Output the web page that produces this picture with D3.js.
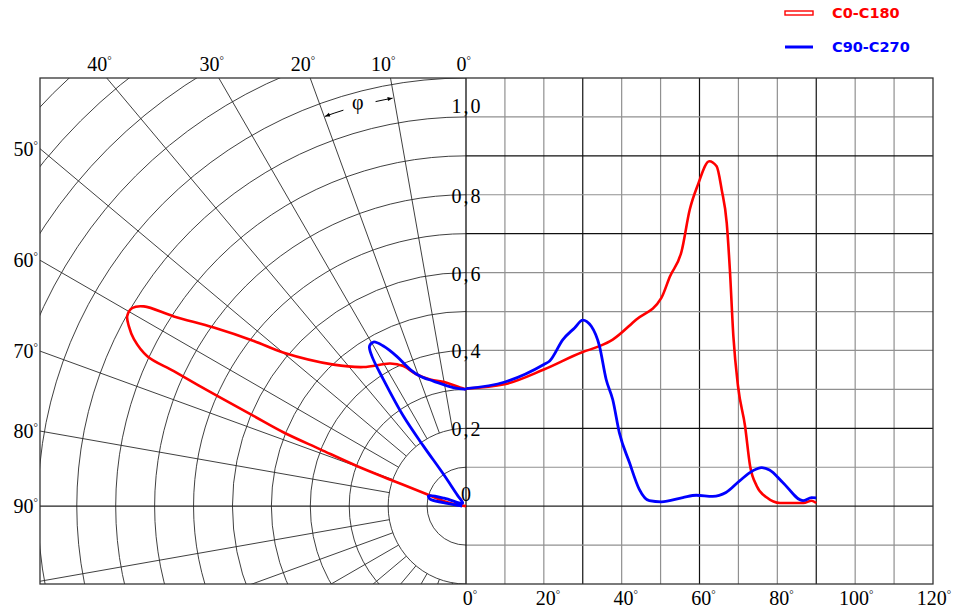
<!DOCTYPE html>
<html>
<head>
<meta charset="utf-8">
<script src="https://cdn.jsdelivr.net/npm/d3@7"></script>
<style>
body { margin: 0; background: #fff; }
text { font-family: "Liberation Serif", "Times New Roman", serif; }
</style>
</head>
<body>
<svg id="chart" width="953" height="611"></svg>
<script>
const svg = d3.select('#chart')

// polar grid
const ringValues = [0.1, 0.2, 0.3, 0.4, 0.5, 0.6, 0.7, 0.8, 0.9, 1.0, 1.1, 1.2, 1.3, 1.4, 1.5]
const spokeAngles = [10, 20, 30, 40, 50, 60, 70, 80, 100, 110, 120, 130, 140, 150, 160, 170]
const topAngleLabels = [0, 10, 20, 30, 40]
const sideAngleLabels = [50, 60, 70, 80, 90]

// cartesian grid
const xGrid = [10, 20, 30, 40, 50, 60, 70, 80, 90, 100, 110]
const xDark = [30, 60, 90]
const yGrid = [-0.1, 0.1, 0.2, 0.3, 0.4, 0.5, 0.6, 0.7, 0.8, 0.9, 1.0]
const yDark = [0.2, 0.7, 0.9]
const xTickValues = [0, 20, 40, 60, 80, 100, 120]
const yTickValues = [0, 0.2, 0.4, 0.6, 0.8, 1.0]
const yTickLabels = ['0', '0,2', '0,4', '0,6', '0,8', '1,0']

// polar curves (angle from vertical, relative intensity)
const redPolarAngle = [0, 2.9, 8.9, 15.8, 20.5, 24.1, 28.0, 36.4, 43.1, 49.9, 52.1, 54.7, 57.0, 58.2, 59.3, 60.7, 61.9, 63.3, 64.8, 65.2, 66.1, 67.0, 68.0, 68.7, 69.8, 70.8, 73.0, 76.9, 82, 90]
const redPolarValue = [0.30, 0.305, 0.321, 0.338, 0.361, 0.394, 0.415, 0.444, 0.498, 0.612, 0.691, 0.794, 0.895, 0.974, 0.997, 0.998, 0.982, 0.955, 0.905, 0.827, 0.699, 0.593, 0.505, 0.402, 0.299, 0.197, 0.105, 0.06, 0.02, 0.0]
const bluePolarAngle = [0, 6.1, 14.6, 19.4, 22.2, 24.8, 27.3, 29.4, 31.1, 32.1, 33.1, 34.8, 35.3, 35.2, 38, 45, 55, 65, 70, 74.7, 79, 81, 85, 90]
const bluePolarValue = [0.30, 0.306, 0.332, 0.354, 0.379, 0.424, 0.463, 0.484, 0.480, 0.455, 0.389, 0.282, 0.189, 0.104, 0.036, 0.012, 0.012, 0.02, 0.06, 0.10, 0.094, 0.059, 0.02, 0.01]

// cartesian curves
const redAngle = [0, 9.9, 20, 30, 34.3, 37.7, 43.7, 50.2, 52.4, 55.4, 57.5, 59.6, 62.5, 64.4, 65.7, 67.0, 67.8, 68.7, 69.9, 71.7, 73.0, 74.7, 77.3, 80.7, 86.7, 88.8, 90]
const redValue = [0.302, 0.313, 0.351, 0.396, 0.411, 0.428, 0.479, 0.535, 0.590, 0.655, 0.762, 0.826, 0.886, 0.873, 0.813, 0.727, 0.608, 0.437, 0.308, 0.206, 0.103, 0.052, 0.022, 0.008, 0.008, 0.014, 0.008]
const blueAngle = [0, 10, 20, 21.5, 24.9, 27.9, 30, 32.2, 34.3, 36.0, 37.7, 39.4, 42, 44.5, 47.1, 50.2, 55.7, 59.2, 63.4, 66.8, 70.3, 73.7, 75.9, 78, 81.4, 86.6, 88.8, 90]
const blueValue = [0.302, 0.319, 0.364, 0.373, 0.428, 0.458, 0.478, 0.462, 0.411, 0.326, 0.274, 0.189, 0.112, 0.044, 0.014, 0.011, 0.022, 0.028, 0.025, 0.035, 0.065, 0.091, 0.099, 0.093, 0.061, 0.014, 0.022, 0.021]

const redColor = '#ff0000'
const blueColor = '#0000ff'

const xScale = d3.scaleLinear().domain([0, 120]).range([466, 933])
const yScale = d3.scaleLinear().domain([-0.2, 1.1]).range([584, 78])
const cx = xScale(0)
const cy = yScale(0)
const rScale = d3.scaleLinear().domain([0, 1.1]).range([0, cy - yScale(1.1)])
const plotLeft = 40
const plotTop = yScale(1.1)
const plotBottom = yScale(-0.2)
const rad = a => a * Math.PI / 180
const px = (a, v) => cx - rScale(v) * Math.sin(rad(a))
const py = (a, v) => cy - rScale(v) * Math.cos(rad(a))

const defs = svg.append('defs')
defs.append('clipPath').attr('id', 'polarClip')
  .append('rect')
  .attr('x', plotLeft).attr('y', plotTop)
  .attr('width', cx - plotLeft).attr('height', plotBottom - plotTop)

defs.append('marker')
  .attr('id', 'arrow')
  .attr('viewBox', '0 -5 10 10')
  .attr('refX', 10).attr('refY', 0)
  .attr('markerWidth', 7).attr('markerHeight', 5)
  .attr('markerUnits', 'userSpaceOnUse')
  .attr('orient', 'auto')
  .append('path').attr('d', 'M0,-4L10,0L0,4Z').style('fill', '#000')

// degree label: digits plus a small raised ring
const degreeLabel = (sel, d) => {
  sel.text(d)
  sel.append('tspan').attr('dy', -7).style('font-size', '11px').text('°')
}

// ---- polar grid
const polar = svg.append('g').attr('clip-path', 'url(#polarClip)')
polar.selectAll('circle.ring')
  .data(ringValues)
  .enter().append('circle')
  .attr('class', 'ring')
  .attr('cx', cx).attr('cy', cy)
  .attr('r', d => rScale(d))
  .attr('fill', 'none').attr('stroke', '#2a2a2a').attr('stroke-width', 0.9)

polar.selectAll('line.spoke')
  .data(spokeAngles)
  .enter().append('line')
  .attr('class', 'spoke')
  .attr('x1', d => px(d, 0.2)).attr('y1', d => py(d, 0.2))
  .attr('x2', d => px(d, 2)).attr('y2', d => py(d, 2))
  .attr('stroke', '#2a2a2a').attr('stroke-width', 0.9)

// phi dimension arrow
const phiR = rScale(1.065)
const arcPath = (a1, a2) => `M${px(a1, 1.065)},${py(a1, 1.065)} A${phiR},${phiR} 0 0 ${a2 > a1 ? 0 : 1} ${px(a2, 1.065)},${py(a2, 1.065)}`
svg.append('path').attr('d', arcPath(17.2, 19.9))
  .attr('fill', 'none').attr('stroke', '#000').attr('stroke-width', 1).attr('marker-end', 'url(#arrow)')
svg.append('path').attr('d', arcPath(12.6, 10.2))
  .attr('fill', 'none').attr('stroke', '#000').attr('stroke-width', 1).attr('marker-end', 'url(#arrow)')
svg.append('text')
  .attr('x', px(15, 1.075)).attr('y', py(15, 1.075) + 7)
  .attr('text-anchor', 'middle')
  .style('font-size', '20px')
  .text('φ')

// ---- cartesian grid
svg.selectAll('line.vgrid')
  .data(xGrid)
  .enter().append('line')
  .attr('class', 'vgrid')
  .attr('x1', d => xScale(d)).attr('x2', d => xScale(d))
  .attr('y1', plotTop).attr('y2', plotBottom)
  .attr('stroke', d => xDark.includes(d) ? '#111' : '#909090')
  .attr('stroke-width', 1.2)

svg.selectAll('line.hgrid')
  .data(yGrid)
  .enter().append('line')
  .attr('class', 'hgrid')
  .attr('x1', cx).attr('x2', xScale(120))
  .attr('y1', d => yScale(d)).attr('y2', d => yScale(d))
  .attr('stroke', d => yDark.includes(d) ? '#111' : '#909090')
  .attr('stroke-width', 1.2)

// axes and frame
svg.append('line')
  .attr('x1', plotLeft).attr('x2', xScale(120))
  .attr('y1', cy).attr('y2', cy)
  .attr('stroke', '#222').attr('stroke-width', 1.1)
svg.append('line')
  .attr('x1', cx).attr('x2', cx)
  .attr('y1', plotTop).attr('y2', plotBottom)
  .attr('stroke', '#111').attr('stroke-width', 1.3)
svg.append('rect')
  .attr('x', plotLeft).attr('y', plotTop)
  .attr('width', xScale(120) - plotLeft).attr('height', plotBottom - plotTop)
  .attr('fill', 'none').attr('stroke', '#333').attr('stroke-width', 1.3)

// ---- angle labels
svg.selectAll('text.topAngle')
  .data(topAngleLabels)
  .enter().append('text')
  .attr('class', 'topAngle')
  .attr('x', d => cx - (cy - plotTop) * Math.tan(rad(d)) + 5)
  .attr('y', plotTop - 7)
  .attr('text-anchor', 'end')
  .style('font-size', '20px')
  .each(function (d) { degreeLabel(d3.select(this), d) })

svg.selectAll('text.sideAngle')
  .data(sideAngleLabels)
  .enter().append('text')
  .attr('class', 'sideAngle')
  .attr('x', plotLeft - 2)
  .attr('y', d => cy - (cx - plotLeft) / Math.tan(rad(d)) + 7)
  .attr('text-anchor', 'end')
  .style('font-size', '20px')
  .each(function (d) { degreeLabel(d3.select(this), d) })

svg.selectAll('text.xTick')
  .data(xTickValues)
  .enter().append('text')
  .attr('class', 'xTick')
  .attr('x', d => xScale(d) + (d >= 100 ? 1 : 4))
  .attr('y', plotBottom + 21)
  .attr('text-anchor', 'middle')
  .style('font-size', '20px')
  .each(function (d) { degreeLabel(d3.select(this), d) })

svg.selectAll('text.yTick')
  .data(yTickValues)
  .enter().append('text')
  .attr('class', 'yTick')
  .attr('x', cx + 1)
  .attr('y', d => d === 1 ? yScale(d) - 4 : d === 0 ? yScale(d) - 5 : yScale(d) + 8)
  .attr('text-anchor', 'middle')
  .style('font-size', '20px')
  .style('letter-spacing', '2px')
  .text((d, i) => yTickLabels[i])

// ---- curves
const polarLine = d3.lineRadial()
  .angle(d => -rad(d[0]))
  .radius(d => rScale(d[1]))
  .curve(d3.curveCatmullRom)
const cartLine = d3.line()
  .x(d => xScale(d[0]))
  .y(d => yScale(d[1]))
  .curve(d3.curveMonotoneX)

const curves = svg.append('g')
const series = [
  { pa: redPolarAngle, pv: redPolarValue, a: redAngle, v: redValue, color: redColor, w: 2.6 },
  { pa: bluePolarAngle, pv: bluePolarValue, a: blueAngle, v: blueValue, color: blueColor, w: 2.8 }
]
series.forEach(s => {
  curves.append('path')
    .attr('transform', `translate(${cx},${cy})`)
    .attr('d', polarLine(s.pa.map((a, i) => [a, s.pv[i]])))
    .attr('fill', 'none').attr('stroke', s.color).attr('stroke-width', s.w)
    .attr('stroke-linejoin', 'round')
  curves.append('path')
    .attr('d', cartLine(s.a.map((a, i) => [a, s.v[i]])))
    .attr('fill', 'none').attr('stroke', s.color).attr('stroke-width', s.w)
    .attr('stroke-linejoin', 'round')
})

// ---- legend
svg.append('rect')
  .attr('x', 785).attr('y', 11).attr('width', 28).attr('height', 4)
  .attr('fill', '#fff').attr('stroke', redColor).attr('stroke-width', 1.4)
svg.append('line')
  .attr('x1', 785).attr('x2', 813).attr('y1', 47).attr('y2', 47)
  .attr('stroke', blueColor).attr('stroke-width', 3)
svg.append('text').attr('x', 832).attr('y', 18)
  .style('font-family', '"DejaVu Sans", Verdana, sans-serif')
  .style('font-weight', 'bold').style('font-size', '14.5px')
  .style('fill', redColor).text('C0-C180')
svg.append('text').attr('x', 832).attr('y', 52)
  .style('font-family', '"DejaVu Sans", Verdana, sans-serif')
  .style('font-weight', 'bold').style('font-size', '14.5px')
  .style('fill', blueColor).text('C90-C270')
</script>
</body>
</html>
